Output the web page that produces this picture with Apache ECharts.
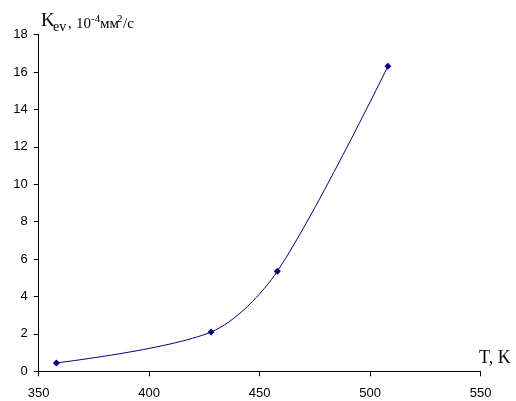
<!DOCTYPE html>
<html><head><meta charset="utf-8">
<script src="https://cdn.jsdelivr.net/npm/echarts@6/dist/echarts.min.js"></script>
<style>html,body{margin:0;padding:0;background:#fff}#c{width:516px;height:401px}</style>
</head><body><div id="c"></div>
<script>
var temps = [358, 428, 458, 508];
var kev = [0.45, 2.1, 5.35, 16.3];
var xTicks = [350, 400, 450, 500, 550];
var yTicks = [0, 2, 4, 6, 8, 10, 12, 14, 16, 18];

var chart = echarts.init(document.getElementById('c'));
var serif = '"Liberation Serif","Times New Roman",serif';
var col = '#000080';
chart.setOption({
  animation: false,
  backgroundColor: '#fff',
  grid: {left: 38.7, right: 35.3, top: 34.5, bottom: 29.7, containLabel: false},
  xAxis: {
    type: 'value', min: xTicks[0], max: xTicks[xTicks.length-1], interval: 50,
    axisLine: {onZero: false, lineStyle: {color: '#000', width: 1}},
    axisTick: {show: true, inside: false, length: 5, lineStyle: {color: '#000'}},
    axisLabel: {margin: 16, fontFamily: '"Liberation Sans",Arial,sans-serif', fontSize: 13, color: '#000'},
    splitLine: {show: false}
  },
  yAxis: {
    type: 'value', min: yTicks[0], max: yTicks[yTicks.length-1], interval: 2,
    axisLine: {show: true, lineStyle: {color: '#000', width: 1}},
    axisTick: {show: true, inside: false, length: 5, lineStyle: {color: '#000'}},
    axisLabel: {margin: 11, fontFamily: '"Liberation Sans",Arial,sans-serif', fontSize: 13, color: '#000'},
    splitLine: {show: false}
  },
  series: [{
    type: 'line',
    data: temps.map(function(t, i){ return [t, kev[i]]; }),
    smooth: 0.3,
    symbol: 'diamond', symbolSize: 7,
    itemStyle: {color: col},
    lineStyle: {color: col, width: 1}
  }],
  graphic: [
    {type: 'text', left: 41, top: 12, style: {text: 'K', font: '19px ' + serif, fill: '#000'}},
    {type: 'text', left: 53, top: 20, style: {text: 'ev', font: '14px ' + serif, fill: '#000'}},
    {type: 'text', left: 68, top: 17, style: {text: ',', font: '15px ' + serif, fill: '#000'}},
    {type: 'text', left: 76, top: 17, style: {text: '10', font: '15px ' + serif, fill: '#000'}},
    {type: 'text', left: 91, top: 14, style: {text: '-4', font: '11px ' + serif, fill: '#000'}},
    {type: 'text', left: 100, top: 17, style: {text: 'мм', font: '15px ' + serif, fill: '#000'}},
    {type: 'text', left: 117, top: 14, style: {text: '2', font: '11px ' + serif, fill: '#000'}},
    {type: 'text', left: 123, top: 17, style: {text: '/с', font: '15px ' + serif, fill: '#000'}},
    {type: 'text', left: 479, top: 349, style: {text: 'T, K', font: '18px ' + serif, fill: '#000'}}
  ]
});
</script></body></html>
